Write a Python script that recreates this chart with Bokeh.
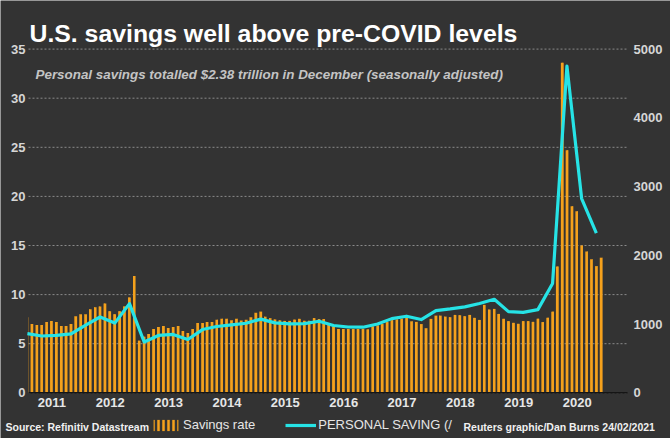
import pandas as pd
from bokeh.plotting import figure
from bokeh.models import Range1d, Label, Legend, LegendItem, ColumnDataSource
from bokeh.core.properties import value
from bokeh.embed import file_html
from bokeh.resources import INLINE

# ---------------- data ----------------
month_start = "2011-02-01"
month_end = "2020-12-01"
savings_rate = [
    7.7, 7.0, 6.9, 6.9, 7.2, 7.3, 7.2, 6.8, 6.8, 7.0, 7.8,                    # 2011 Feb-Dec
    8.0, 8.0, 8.5, 8.7, 8.8, 9.1, 8.3, 8.0, 8.3, 8.8, 9.7, 11.9,             # 2012
    5.3, 5.7, 6.0, 6.5, 6.7, 6.8, 6.6, 6.7, 6.8, 6.3, 6.1, 6.5,              # 2013
    7.1, 7.1, 7.2, 7.2, 7.45, 7.55, 7.55, 7.4, 7.55, 7.35, 7.45, 7.7,        # 2014
    8.15, 8.27, 7.75, 7.6, 7.47, 7.38, 7.32, 7.32, 7.45, 7.53, 7.33, 7.33,   # 2015
    7.6, 7.5, 7.5, 7.0, 6.75, 6.5, 6.5, 6.5, 6.5, 6.5, 6.5, 6.45,            # 2016
    6.75, 6.85, 7.0, 7.2, 7.4, 7.47, 7.55, 7.65, 7.28, 7.22, 7.0, 6.58,      # 2017
    7.53, 7.86, 7.86, 7.76, 7.7, 7.93, 7.9, 7.8, 7.93, 7.63, 7.42, 8.95,     # 2018
    8.47, 8.54, 8.03, 7.53, 7.29, 7.12, 7.02, 7.29, 7.29, 7.22, 7.54, 7.2,   # 2019
    7.64, 8.26, 12.86, 33.6, 24.7, 19.0, 18.5, 15.0, 14.4, 13.6, 12.9, 13.76 # 2020
]
quarter_start = "2011-02-01"   # mid-month of each quarter
quarter_end = "2020-11-01"
personal_saving = [
    860, 826, 836, 857,
    986, 1103, 1014, 1297,
    739, 834, 849, 776,
    920, 964, 989, 1012,
    1072, 1017, 1003, 1007,
    1041, 979, 957, 954,
    1000, 1079, 1114, 1066,
    1196, 1220, 1250, 1300,
    1361, 1181, 1171, 1210,
    1590, 4752, 2826, 2324,
]
year_labels = ["2011", "2012", "2013", "2014", "2015",
               "2016", "2017", "2018", "2019", "2020"]
left_ticks = [0, 5, 10, 15, 20, 25, 30, 35]
right_ticks = [0, 1000, 2000, 3000, 4000, 5000]

BG = "#333333"
ORANGE = "#f5a11c"
CYAN = "#26e3e6"
FONT = "Liberation Sans"
W, H = 670, 438

# plot area: x 28..627 px, y: 0 at 392.3 px, 35 at 48.6 px
AREA_START = pd.Timestamp("2011-02-08")
AREA_END = pd.Timestamp("2021-05-15")
AREA_L, AREA_R = 28, 627
px_per_day = (AREA_R - AREA_L) / (AREA_END - AREA_START).days
x_lo = AREA_START - pd.Timedelta(days=AREA_L / px_per_day)
x_hi = AREA_END + pd.Timedelta(days=(W - AREA_R) / px_per_day)
PX_PER_UNIT = (392.3 - 48.6) / 35.0
y_lo = -(H - 392.3) / PX_PER_UNIT
y_hi = 35 + 48.6 / PX_PER_UNIT
ratio = right_ticks[-1] / left_ticks[-1]

months = pd.date_range(month_start, month_end, freq="MS")
quarters = pd.date_range(quarter_start, quarter_end, freq="3MS")
tick_dates = [pd.Timestamp(f"{y}-07-04") for y in year_labels]
half_bar = pd.Timedelta(days=8)
bar_left = [max(m - half_bar, AREA_START) for m in months]   # clipped at plot-area edge
bar_right = [m + half_bar for m in months]

bar_src = ColumnDataSource(dict(l=bar_left, r=bar_right, y=savings_rate))
line_src = ColumnDataSource(dict(x=quarters, y=personal_saving))
xtick_src = ColumnDataSource(dict(x=tick_dates, t=year_labels))
ltick_src = ColumnDataSource(dict(y=left_ticks, t=[str(v) for v in left_ticks],
                                  x0=[AREA_START] * len(left_ticks),
                                  x1=[AREA_END] * len(left_ticks)))
rtick_src = ColumnDataSource(dict(y=right_ticks, t=[str(v) for v in right_ticks],
                                  x=[AREA_END] * len(right_ticks)))

p = figure(width=W, height=H, x_axis_type="datetime", output_backend="svg",
           toolbar_location=None,
           x_range=Range1d(x_lo, x_hi), y_range=Range1d(y_lo, y_hi),
           min_border=0, background_fill_color=BG, border_fill_color=BG,
           outline_line_color=None)
p.extra_y_ranges = {"sav": Range1d(y_lo * ratio, y_hi * ratio)}
p.axis.visible = False
p.grid.visible = False

# horizontal grid (left-axis ticks), dotted
p.segment(x0="x0", x1="x1", y0="y", y1="y", source=ltick_src,
          line_color="#8a8a8a", line_dash="2 2", line_width=1)

bars = p.quad(left="l", right="r", top="y", bottom=0, source=bar_src,
              fill_color=ORANGE, line_color=None)
bars_icon = p.quad(left="l", right="r", top="y", bottom=0, source=bar_src,
                   fill_alpha=0, line_color=None, hatch_pattern="|",
                   hatch_color=ORANGE, hatch_scale=5, hatch_weight=2.5)
line = p.line(x="x", y="y", source=line_src, y_range_name="sav",
              line_color=CYAN, line_width=3.2, line_join="round")

# x axis line
p.segment(x0=AREA_START, x1=AREA_END, y0=0, y1=0, line_color="#151515", line_width=1.5)

# axis labels
p.text(x="x", y=-1.0, text="t", source=xtick_src, text_font=value(FONT),
       text_font_style="bold", text_font_size="13px", text_color="#e6e6e6",
       text_align="center", text_baseline="middle")
p.text(x="x0", y="y", text="t", source=ltick_src, x_offset=-3, text_font=value(FONT),
       text_font_style="bold", text_font_size="13px", text_color="#d6d6d6",
       text_align="right", text_baseline="middle")
p.text(x="x", y="y", text="t", source=rtick_src, y_range_name="sav", x_offset=6,
       text_font=value(FONT), text_font_style="bold", text_font_size="13px",
       text_color="#d6d6d6", text_align="left", text_baseline="middle")

# texts (screen units from canvas bottom-left)
p.add_layout(Label(x=29, y=H - 33, x_units="screen", y_units="screen",
                   text="U.S. savings well above pre-COVID levels",
                   text_font=FONT, text_font_style="bold", text_font_size="24.8px",
                   text_color="#ffffff", text_baseline="middle"))
p.add_layout(Label(x=35, y=H - 74, x_units="screen", y_units="screen",
                   text="Personal savings totalled $2.38 trillion in December (seasonally adjusted)",
                   text_font=FONT, text_font_style="bold italic", text_font_size="13.4px",
                   text_color="#c4c4c4", text_baseline="middle"))
p.add_layout(Label(x=5, y=H - 426, x_units="screen", y_units="screen",
                   text="Source: Refinitiv Datastream",
                   text_font=FONT, text_font_style="bold", text_font_size="10.5px",
                   text_color="#f0f0f0", text_baseline="middle"))
p.add_layout(Label(x=463, y=H - 426, x_units="screen", y_units="screen",
                   text="Reuters graphic/Dan Burns 24/02/2021",
                   text_font=FONT, text_font_style="bold", text_font_size="10.5px",
                   text_color="#f0f0f0", text_baseline="middle"))

legend = Legend(items=[LegendItem(label="Savings rate", renderers=[bars_icon]),
                       LegendItem(label="PERSONAL SAVING (/", renderers=[line])],
                location=(150, H - 432), orientation="horizontal",
                glyph_width=31, glyph_height=14, label_height=14, label_standoff=2,
                spacing=30, padding=0, margin=0,
                background_fill_alpha=0, border_line_alpha=0,
                label_text_font=FONT, label_text_font_size="13px",
                label_text_color="#e6e6e6")
p.add_layout(legend)

open("out.html", "w").write(file_html(p, INLINE))
